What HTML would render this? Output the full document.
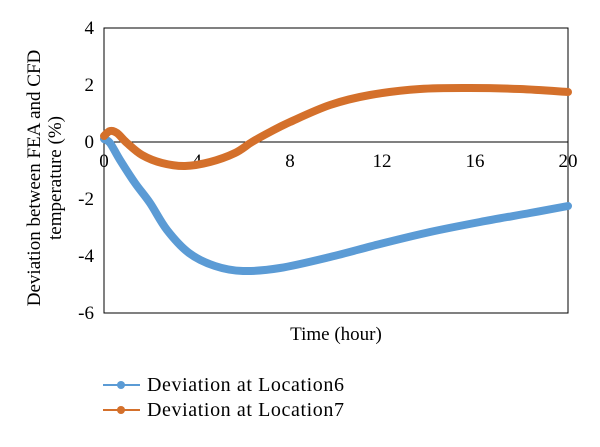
<!DOCTYPE html>
<html><head><style>body{margin:0;background:#fff}</style></head><body>
<svg width="600" height="442" xmlns="http://www.w3.org/2000/svg" font-family="Liberation Serif, serif" font-size="19" fill="#000">
<rect x="104" y="28" width="464" height="285" fill="none" stroke="#000" stroke-width="1"/>
<line x1="104" y1="142" x2="568" y2="142" stroke="#000" stroke-width="1"/>
<g text-anchor="end">
<text x="94" y="34">4</text><text x="94" y="91">2</text><text x="94" y="148">0</text>
<text x="94" y="205">-2</text><text x="94" y="262">-4</text><text x="94" y="319">-6</text>
</g>
<g text-anchor="middle">
<text x="104" y="167">0</text><text x="197" y="167">4</text><text x="290" y="167">8</text>
<text x="382" y="167">12</text><text x="475" y="167">16</text><text x="568" y="167">20</text>
<text x="336" y="340">Time (hour)</text>
</g>
<g text-anchor="middle" transform="rotate(-90)">
<text x="-178" y="40">Deviation between FEA and CFD</text>
<text x="-178" y="61">temperature (%)</text>
</g>
<path id="b" d="" fill="none" stroke="#5b9bd5" stroke-width="8" stroke-linecap="round" stroke-linejoin="round"/>
<path id="o" d="" fill="none" stroke="#d4702b" stroke-width="8" stroke-linecap="round" stroke-linejoin="round"/>
<line x1="103" y1="385" x2="140" y2="385" stroke="#5b9bd5" stroke-width="2"/>
<circle cx="121" cy="385" r="4" fill="#5b9bd5"/>
<text x="147" y="391" font-size="20" letter-spacing="0.6">Deviation at Location6</text>
<line x1="103" y1="410" x2="140" y2="410" stroke="#d4702b" stroke-width="2"/>
<circle cx="121" cy="410" r="4" fill="#d4702b"/>
<text x="147" y="416" font-size="20" letter-spacing="0.6">Deviation at Location7</text>
</svg>
<script>
function cr(p){var d="M"+p[0][0]+","+p[0][1];for(var i=0;i<p.length-1;i++){var p0=p[i-1]||p[i],p1=p[i],p2=p[i+1],p3=p[i+2]||p2;
var c1=[p1[0]+(p2[0]-p0[0])/6,p1[1]+(p2[1]-p0[1])/6],c2=[p2[0]-(p3[0]-p1[0])/6,p2[1]-(p3[1]-p1[1])/6];
d+=" C"+c1+" "+c2+" "+p2;}return d;}
document.getElementById("b").setAttribute("d",cr([[104,139],[110,143],[120,160],[135,183],[150,203],[167,230],[189,253],[215,266],[243,271],[280,268],[330,257],[380,244],[430,232],[480,222],[530,213],[568,206]]));
document.getElementById("o").setAttribute("d",cr([[104,136],[110,131],[117,133],[127,143],[142,155],[162,163],[185,166],[210,162],[235,153],[252,142],[270,132],[290,122],[330,105],[370,95],[420,89],[470,88],[520,89],[568,92]]));
</script>
</body></html>
